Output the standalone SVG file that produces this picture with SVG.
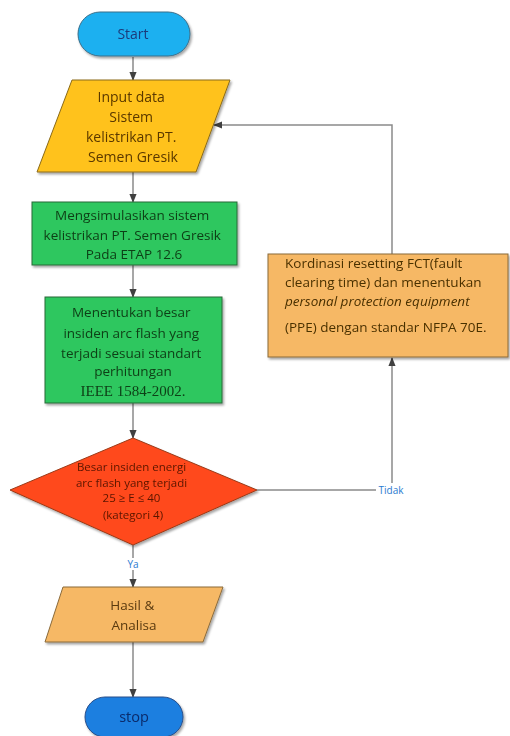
<svg xmlns="http://www.w3.org/2000/svg" width="510" height="736" viewBox="0 0 510 736">
<defs>
<filter id="sh" x="-10%" y="-10%" width="130%" height="130%">
<feDropShadow dx="1.5" dy="2" stdDeviation="1.2" flood-color="#000" flood-opacity="0.35"/>
</filter>
<marker id="ah" viewBox="0 0 10 10" refX="9" refY="5" markerWidth="6" markerHeight="6" orient="auto">
<path d="M0,1 L10,5 L0,9 z" fill="#404040"/>
</marker>
</defs>
<style>
.ln{fill:none;stroke:#8a8a8a;stroke-width:1.5;marker-end:url(#ah)}
.t{font-family:"Open Sans","Liberation Sans",sans-serif;text-anchor:middle}
.term1{fill:#1fb0f0;stroke:#3a6f8a;stroke-width:1}
.term2{fill:#1a7fe0;stroke:#2a4f8a;stroke-width:1}
.gold{fill:#ffc21a;stroke:#8a6a1a;stroke-width:1}
.tan{fill:#f6b865;stroke:#8a6a3a;stroke-width:1}
.grn{fill:#2ec75e;stroke:#2a6a3a;stroke-width:1}
.red{fill:#ff4a1a;stroke:#9a3a1a;stroke-width:1}
.lbl{font-family:"Open Sans","Liberation Sans",sans-serif;font-size:10px;fill:#2a7ad0;text-anchor:middle}
</style>
<g id="connectors">
<line class="ln" x1="133" y1="57" x2="133" y2="80"/>
<line class="ln" x1="133" y1="172" x2="133" y2="202"/>
<line class="ln" x1="133" y1="265" x2="133" y2="297"/>
<line class="ln" x1="133" y1="403" x2="133" y2="438"/>
<line class="ln" x1="133" y1="545" x2="133" y2="587"/>
<line class="ln" x1="133" y1="642" x2="133" y2="697"/>
<polyline class="ln" points="257,490 392,490 392,358"/>
<polyline class="ln" points="392,254 392,125 214,125"/>
<rect x="376" y="483" width="31" height="13" fill="#fff"/>
<text class="lbl" x="391" y="494">Tidak</text>
<rect x="126" y="558" width="14" height="12" fill="#fff"/>
<text class="lbl" x="133" y="568">Ya</text>
</g>
<g id="start" filter="url(#sh)">
<rect class="term1" x="78" y="12" width="112" height="44" rx="22"/>
<text class="t" x="133" y="39" font-size="14" fill="#1a3a7a">Start</text>
</g>
<g id="input" filter="url(#sh)">
<polygon class="gold" points="72,80 230,80 196,172 37,172"/>
<text class="t" font-size="14" fill="#5a3800">
<tspan x="133" y="102">Input data</tspan>
<tspan x="133" y="122">Sistem</tspan>
<tspan x="133" y="142">kelistrikan PT.</tspan>
<tspan x="133" y="162">Semen Gresik</tspan>
</text>
</g>
<g id="simulasi" filter="url(#sh)">
<rect class="grn" x="32" y="202" width="205" height="63"/>
<text class="t" font-size="13.5" fill="#0f4018">
<tspan x="134" y="220">Mengsimulasikan sistem</tspan>
<tspan x="134" y="240">kelistrikan PT. Semen Gresik</tspan>
<tspan x="134" y="259">Pada ETAP 12.6</tspan>
</text>
</g>
<g id="tentukan" filter="url(#sh)">
<rect class="grn" x="45" y="297" width="177" height="106"/>
<text class="t" font-size="13.5" fill="#0f4018">
<tspan x="133" y="317">Menentukan besar</tspan>
<tspan x="133" y="338">insiden arc flash yang</tspan>
<tspan x="133" y="358">terjadi sesuai standart</tspan>
<tspan x="133" y="376">perhitungan</tspan>
</text>
<text x="133" y="396" font-family="'Liberation Serif','Times New Roman',serif" font-size="15" text-anchor="middle" fill="#0f4018">IEEE 1584-2002.</text>
</g>
<g id="keputusan" filter="url(#sh)">
<polygon class="red" points="133,438 257,490 133,545 10,490"/>
<text class="t" font-size="11.5" fill="#5a1500">
<tspan x="133" y="471">Besar insiden energi</tspan>
<tspan x="133" y="487">arc flash yang terjadi</tspan>
<tspan x="133" y="502">25 ≥ E ≤ 40</tspan>
<tspan x="133" y="519">(kategori 4)</tspan>
</text>
</g>
<g id="koordinasi" filter="url(#sh)">
<rect class="tan" x="268" y="254" width="240" height="103"/>
<text font-family="'Open Sans','Liberation Sans',sans-serif" font-size="13.5" fill="#4a3000">
<tspan x="285" y="268">Kordinasi resetting FCT(fault</tspan>
<tspan x="285" y="287">clearing time) dan menentukan</tspan>
<tspan x="285" y="306" font-style="italic">personal protection equipment</tspan>
<tspan x="285" y="332">(PPE) dengan standar NFPA 70E.</tspan>
</text>
</g>
<g id="hasil" filter="url(#sh)">
<polygon class="tan" points="63,587 223,587 203,642 45,642"/>
<text class="t" font-size="13.5" fill="#5a3a10">
<tspan x="134" y="610">Hasil &amp;</tspan>
<tspan x="134" y="630">Analisa</tspan>
</text>
</g>
<g id="stop" filter="url(#sh)">
<rect class="term2" x="85" y="697" width="98" height="40" rx="20"/>
<text class="t" x="134" y="722" font-size="14.5" fill="#0a2a6a">stop</text>
</g>
</svg>
